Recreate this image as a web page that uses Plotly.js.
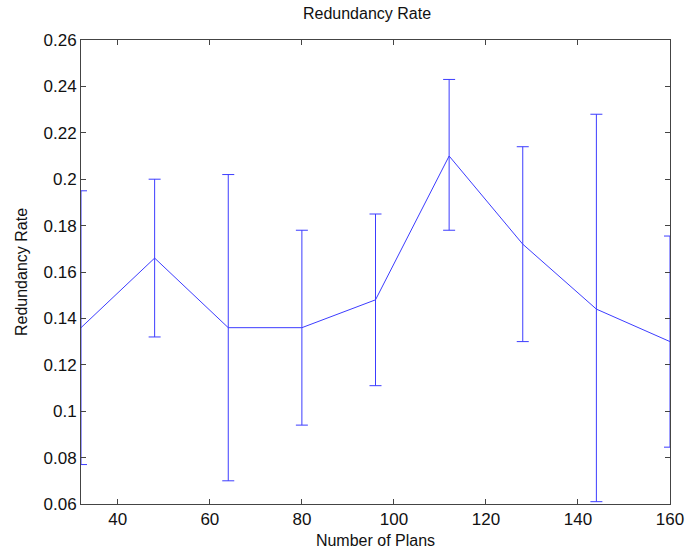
<!DOCTYPE html>
<html>
<head>
<meta charset="utf-8">
<script src="https://cdn.plot.ly/plotly-3.0.1.min.js"></script>
<style>html,body{margin:0;padding:0;background:#fff}#chart{width:686px;height:552px}</style>
</head>
<body>
<div id="chart"></div>
<script>
const plans = [32, 48, 64, 80, 96, 112, 128, 144, 160];
const rate = [0.136, 0.166, 0.136, 0.136, 0.148, 0.210, 0.172, 0.144, 0.130];
const errUp = [0.059, 0.034, 0.066, 0.042, 0.037, 0.033, 0.042, 0.084, 0.0455];
const errDown = [0.059, 0.034, 0.066, 0.042, 0.037, 0.032, 0.042, 0.083, 0.0455];
const xTicks = [40, 60, 80, 100, 120, 140, 160];
const yTicks = [0.06, 0.08, 0.1, 0.12, 0.14, 0.16, 0.18, 0.2, 0.22, 0.24, 0.26];
const yTickText = ['0.06', '0.08', '0.1', '0.12', '0.14', '0.16', '0.18', '0.2', '0.22', '0.24', '0.26'];

const blue = 'rgb(60,60,255)';
const font = 'Liberation Sans, Arial, Helvetica, sans-serif';

const trace = {
  x: plans, y: rate, type: 'scatter', mode: 'lines',
  line: {color: blue, width: 1},
  error_y: {type: 'data', symmetric: false, array: errUp, arrayminus: errDown,
            color: blue, thickness: 1, width: 6},
  hoverinfo: 'skip'
};

const axisCommon = {
  showline: true, linecolor: '#444', linewidth: 1, mirror: 'ticks',
  ticks: 'inside', ticklen: 5, tickcolor: '#444', showgrid: false, zeroline: false,
  tickfont: {family: font, size: 17, color: '#111'}
};

const layout = {
  width: 686, height: 552,
  margin: {l: 81, r: 16, t: 40, b: 48},
  paper_bgcolor: '#fff', plot_bgcolor: '#fff',
  showlegend: false,
  title: {text: 'Redundancy Rate', font: {family: font, size: 16, color: '#111'},
          x: 0.535, xanchor: 'center', y: 0.975, yanchor: 'middle'},
  xaxis: Object.assign({}, axisCommon, {
    range: [32, 160], tickvals: xTicks, ticktext: xTicks.map(String),
    title: {text: 'Number of Plans', font: {family: font, size: 16, color: '#111'}, standoff: 6}
  }),
  yaxis: Object.assign({}, axisCommon, {
    range: [0.06, 0.26], tickvals: yTicks, ticktext: yTickText,
    title: {text: 'Redundancy Rate', font: {family: font, size: 16, color: '#111'}, standoff: 11}
  })
};

Plotly.newPlot('chart', [trace], layout, {displayModeBar: false, staticPlot: true});
</script>
</body>
</html>
